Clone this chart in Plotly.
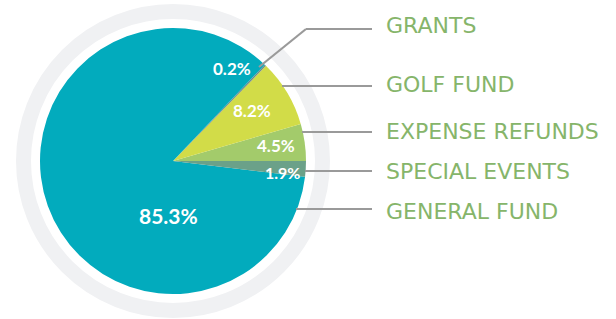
import plotly.graph_objects as go

categories = ["EXPENSE REFUNDS", "GOLF FUND", "GRANTS", "GENERAL FUND", "SPECIAL EVENTS"]
values = [4.5, 8.2, 0.2, 85.3, 1.9]
pct_labels = ["4.5%", "8.2%", "0.2%", "85.3%", "1.9%"]
colors = ["#A3CB6B", "#D2DC48", "#6F8C8C", "#02ABBD", "#6BA189"]

W, H = 616, 319
cx, cy, R = 173, 161, 133

def px(x):
    return x / W

def py(y):
    return 1 - y / H

# first slice (counterclockwise) begins at 3 o'clock
first_angle = 360.0 * values[0] / sum(values)

fig = go.Figure()
fig.add_trace(go.Pie(
    labels=categories,
    values=values,
    sort=False,
    direction="counterclockwise",
    rotation=90 - first_angle,
    marker=dict(colors=colors, line=dict(width=0)),
    textinfo="none",
    hoverinfo="label+percent",
    showlegend=False,
    domain=dict(x=[px(cx - R), px(cx + R)], y=[py(cy + R), py(cy - R)]),
))

shapes = []
ring_r = 149.5
shapes.append(dict(type="circle", xref="paper", yref="paper",
                   x0=px(cx - ring_r), x1=px(cx + ring_r),
                   y0=py(cy + ring_r), y1=py(cy - ring_r),
                   line=dict(color="#F0F1F3", width=15), layer="below"))

label_rows = {
    "GRANTS": 26,
    "GOLF FUND": 84,
    "EXPENSE REFUNDS": 131,
    "SPECIAL EVENTS": 171,
    "GENERAL FUND": 211,
}
leader_paths = [
    [(259, 67), (306, 29), (372, 29)],
    [(282, 86), (372, 86)],
    [(302, 132), (372, 132)],
    [(305, 171), (372, 171)],
    [(296, 209), (372, 209)],
]
for pts in leader_paths:
    for (x0, y0), (x1, y1) in zip(pts[:-1], pts[1:]):
        shapes.append(dict(type="line", xref="paper", yref="paper",
                           x0=px(x0), y0=py(y0), x1=px(x1), y1=py(y1),
                           line=dict(color="#9A9A9A", width=2.2)))

annotations = []
for name, y in label_rows.items():
    annotations.append(dict(text=name, x=px(384), y=py(y), xref="paper", yref="paper",
                            xanchor="left", yanchor="middle", showarrow=False,
                            font=dict(family="DejaVu Sans", size=22, color="#86B56A")))

pct_pos = {
    "4.5%": (276, 145, 17),
    "8.2%": (252, 110, 17),
    "0.2%": (232, 68, 17),
    "85.3%": (168, 215, 21),
    "1.9%": (282, 172, 16),
}
for lab in pct_labels:
    x, y, s = pct_pos[lab]
    annotations.append(dict(text="<b>" + lab + "</b>", x=px(x), y=py(y), xref="paper", yref="paper",
                            xanchor="center", yanchor="middle", showarrow=False,
                            font=dict(family="Lato", size=s, color="white")))

fig.update_layout(
    width=W, height=H,
    margin=dict(l=0, r=0, t=0, b=0),
    paper_bgcolor="white",
    plot_bgcolor="white",
    shapes=shapes,
    annotations=annotations,
)
fig.write_html("out.html", config={"displayModeBar": False},
               post_script="document.body.style.margin='0';document.body.style.padding='0';")
